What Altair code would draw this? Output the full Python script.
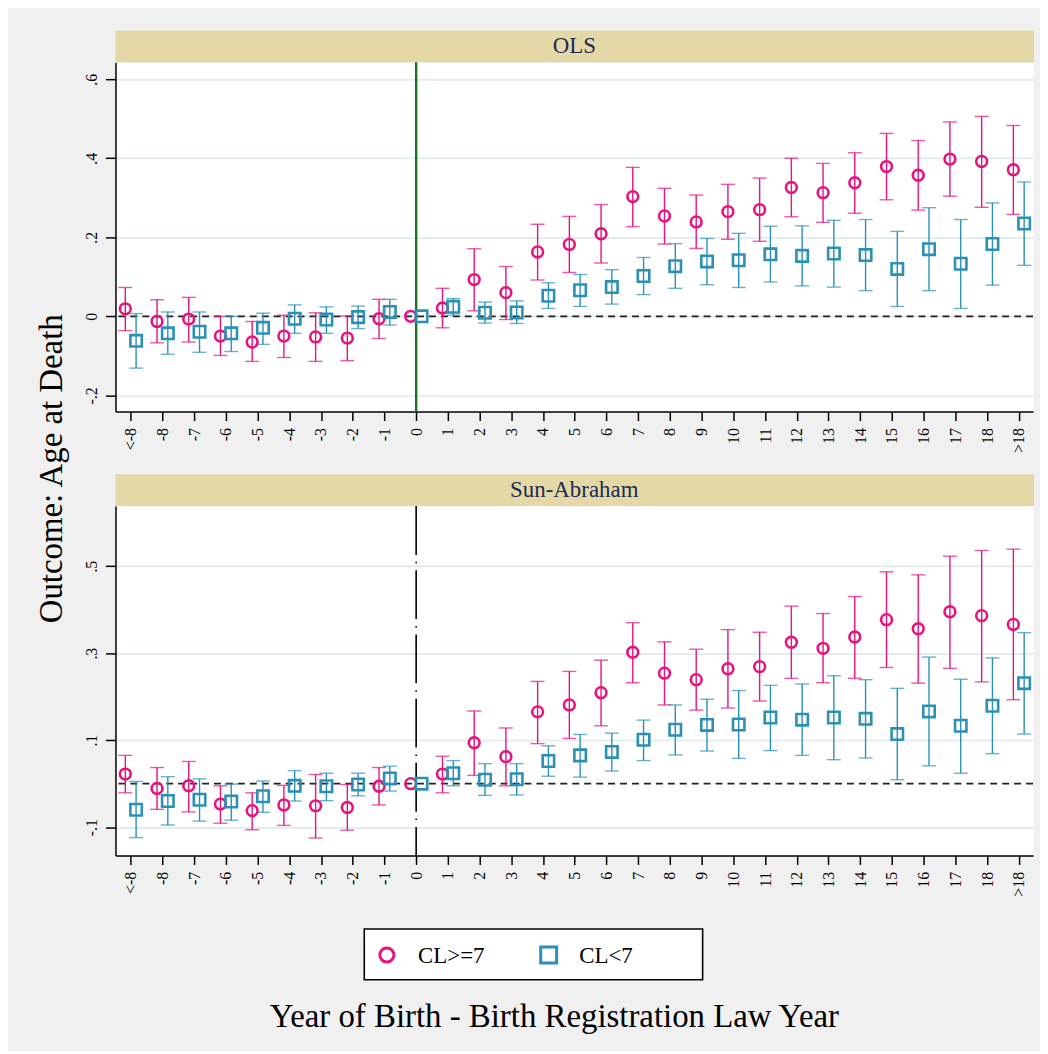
import json
import altair as alt
import pandas as pd

# ---------------- data ----------------
categories = ["<-8", "-8", "-7", "-6", "-5", "-4", "-3", "-2", "-1", "0",
              "1", "2", "3", "4", "5", "6", "7", "8", "9", "10",
              "11", "12", "13", "14", "15", "16", "17", "18", ">18"]
series_names = ["CL>=7", "CL<7"]
panel_names = ["OLS", "Sun-Abraham"]
event_category = "0"

# OLS, CL>=7
ols_ge7_est = [0.019, -0.013, -0.007, -0.050, -0.065, -0.050, -0.052, -0.055, -0.006, 0.0,
               0.021, 0.093, 0.060, 0.163, 0.182, 0.209, 0.303, 0.254, 0.239, 0.265,
               0.270, 0.326, 0.313, 0.338, 0.379, 0.357, 0.398, 0.392, 0.371]
ols_ge7_lo = [-0.036, -0.067, -0.065, -0.099, -0.114, -0.104, -0.114, -0.112, -0.056, None,
              -0.029, 0.014, -0.008, 0.092, 0.111, 0.135, 0.227, 0.183, 0.172, 0.195,
              0.190, 0.252, 0.238, 0.261, 0.295, 0.269, 0.304, 0.276, 0.258]
ols_ge7_hi = [0.073, 0.042, 0.048, 0.000, -0.013, 0.003, 0.009, 0.001, 0.043, None,
              0.071, 0.171, 0.126, 0.233, 0.253, 0.283, 0.377, 0.324, 0.307, 0.334,
              0.350, 0.400, 0.387, 0.414, 0.463, 0.445, 0.492, 0.506, 0.483]
# OLS, CL<7
ols_lt7_est = [-0.062, -0.043, -0.039, -0.043, -0.029, -0.006, -0.008, -0.002, 0.011, 0.0,
               0.024, 0.009, 0.010, 0.052, 0.066, 0.074, 0.102, 0.127, 0.139, 0.142,
               0.157, 0.153, 0.159, 0.155, 0.120, 0.170, 0.133, 0.183, 0.235]
ols_lt7_lo = [-0.131, -0.096, -0.091, -0.089, -0.071, -0.043, -0.043, -0.031, -0.022, None,
              0.003, -0.017, -0.018, 0.020, 0.025, 0.031, 0.055, 0.071, 0.080, 0.073,
              0.087, 0.077, 0.074, 0.065, 0.025, 0.065, 0.020, 0.079, 0.129]
ols_lt7_hi = [0.007, 0.011, 0.011, 0.000, 0.008, 0.029, 0.024, 0.026, 0.043, None,
              0.045, 0.036, 0.039, 0.085, 0.106, 0.118, 0.149, 0.184, 0.197, 0.210,
              0.228, 0.229, 0.243, 0.245, 0.215, 0.275, 0.245, 0.287, 0.340]
# Sun-Abraham, CL>=7
sa_ge7_est = [0.022, -0.011, -0.005, -0.047, -0.062, -0.049, -0.051, -0.055, -0.006, 0.0,
              0.022, 0.094, 0.062, 0.165, 0.181, 0.209, 0.302, 0.254, 0.239, 0.264,
              0.269, 0.325, 0.311, 0.337, 0.377, 0.356, 0.395, 0.386, 0.366]
sa_ge7_lo = [-0.021, -0.059, -0.065, -0.091, -0.106, -0.096, -0.125, -0.107, -0.049, None,
             -0.021, 0.019, -0.005, 0.092, 0.104, 0.133, 0.232, 0.181, 0.169, 0.174,
             0.190, 0.242, 0.232, 0.242, 0.267, 0.231, 0.265, 0.234, 0.193]
sa_ge7_hi = [0.065, 0.037, 0.051, -0.005, -0.021, -0.004, 0.021, -0.002, 0.037, None,
             0.063, 0.167, 0.128, 0.235, 0.258, 0.284, 0.370, 0.326, 0.309, 0.354,
             0.348, 0.408, 0.391, 0.430, 0.487, 0.480, 0.523, 0.536, 0.539]
# Sun-Abraham, CL<7
sa_lt7_est = [-0.060, -0.040, -0.037, -0.041, -0.029, -0.005, -0.006, -0.002, 0.012, 0.0,
              0.024, 0.009, 0.010, 0.052, 0.065, 0.073, 0.101, 0.124, 0.135, 0.136,
              0.152, 0.147, 0.152, 0.149, 0.114, 0.166, 0.133, 0.179, 0.231]
sa_lt7_lo = [-0.124, -0.095, -0.086, -0.084, -0.066, -0.040, -0.039, -0.028, -0.017, None,
             -0.005, -0.027, -0.026, 0.017, 0.015, 0.029, 0.053, 0.066, 0.075, 0.058,
             0.076, 0.065, 0.055, 0.059, 0.009, 0.041, 0.024, 0.069, 0.114]
sa_lt7_hi = [0.005, 0.016, 0.011, -0.001, 0.006, 0.030, 0.024, 0.024, 0.040, None,
             0.053, 0.046, 0.046, 0.087, 0.113, 0.116, 0.146, 0.181, 0.194, 0.214,
             0.226, 0.229, 0.248, 0.239, 0.219, 0.291, 0.240, 0.289, 0.347]

ols_yticks = [-0.2, 0, 0.2, 0.4, 0.6]
ols_ylabels = ["-.2", "0", ".2", ".4", ".6"]
sa_yticks = [-0.1, 0.1, 0.3, 0.5]
sa_ylabels = ["-.1", ".1", ".3", ".5"]

y_title = "Outcome: Age at Death"
x_title = "Year of Birth - Birth Registration Law Year"

# ---------------- style ----------------
MAG = "#e6137e"
TEAL = "#2a90b6"
STRIP = "#e4d9a6"
STRIP_TXT = "#1c2a52"
BG = "#f0f0f0"
FONT = "Liberation Serif"
W, H = 922, 351
XDOM = [-0.48, 28.45]
OFFSETS = {"CL>=7": -0.17, "CL<7": 0.17}


def build_df(parts):
    rows = []
    for sname, est, lo, hi in parts:
        for i, cat in enumerate(categories):
            rows.append(dict(series=sname, cat=cat, idx=i, xpos=i + OFFSETS[sname],
                             est=est[i], lo=lo[i], hi=hi[i]))
    return pd.DataFrame(rows)


ols_df = build_df([("CL>=7", ols_ge7_est, ols_ge7_lo, ols_ge7_hi),
                   ("CL<7", ols_lt7_est, ols_lt7_lo, ols_lt7_hi)])
sa_df = build_df([("CL>=7", sa_ge7_est, sa_ge7_lo, sa_ge7_hi),
                  ("CL<7", sa_lt7_est, sa_lt7_lo, sa_lt7_hi)])

x_label_expr = json.dumps(categories) + "[datum.value]"

color = alt.Color("series:N", scale=alt.Scale(domain=series_names, range=[MAG, TEAL]), legend=None)
shape = alt.Shape("series:N", scale=alt.Scale(domain=series_names, range=["circle", "square"]), legend=None)
size = alt.Size("series:N", scale=alt.Scale(domain=series_names, range=[118, 132]), legend=None)


def make_panel(name, df, ydom, yvals, ylabs, vline_color, vline_dash, top):
    xscale = alt.Scale(domain=XDOM, nice=False, zero=False)
    yscale = alt.Scale(domain=ydom, nice=False, zero=False)
    xaxis_kw = dict(values=list(range(len(categories))), labelExpr=x_label_expr,
                    labelAngle=270, labelFontSize=16, tickSize=9, labelPadding=7,
                    grid=False, labelOverlap=False)
    if top:
        xaxis = alt.Axis(title=None, **xaxis_kw)
    else:
        xaxis = alt.Axis(title=x_title, titleFontSize=33, titleFontWeight="normal",
                         titleX=440.5, titleY=172, titleAlign="center",
                         titleBaseline="alphabetic", titleColor="black", **xaxis_kw)
    ylab_expr = json.dumps(ylabs) + "[indexof(" + json.dumps(yvals) + ", datum.value)]"
    yaxis_kw = dict(values=yvals, labelExpr=ylab_expr, labelAngle=270, labelAlign="center",
                    labelBaseline="alphabetic", labelFontSize=16, tickSize=10, labelPadding=9,
                    grid=True)
    if top:
        yaxis = alt.Axis(title=y_title, titleFontSize=33, titleFontWeight="normal",
                         titleAngle=270, titleX=-54, titleY=408, titleAlign="center",
                         titleBaseline="alphabetic", titleColor="black", **yaxis_kw)
    else:
        yaxis = alt.Axis(title=None, **yaxis_kw)

    def X(f):
        return alt.X(f, type="quantitative", scale=xscale, axis=xaxis)

    def Y(f):
        return alt.Y(f, type="quantitative", scale=yscale, axis=yaxis)

    head = pd.DataFrame({"panel": [name]})
    strip = alt.Chart(head).mark_rect(fill=STRIP).encode(
        x=alt.value(0), x2=alt.value(W + 1), y=alt.value(-32), y2=alt.value(0))
    strip_txt = alt.Chart(head).mark_text(font=FONT, fontSize=23, color=STRIP_TXT,
                                          baseline="middle", align="center").encode(
        x=alt.value(W / 2), y=alt.value(-16), text="panel:N")

    zero = alt.Chart(pd.DataFrame({"z": [0]})).mark_rule(
        color="#222222", strokeWidth=1.6, strokeDash=[7, 5]).encode(y=Y("z"))
    vkw = dict(color=vline_color, strokeWidth=2.4 if top else 1.6)
    if vline_dash:
        vkw["strokeDash"] = vline_dash
    vline = alt.Chart(pd.DataFrame({"ev": [categories.index(event_category)]})).mark_rule(
        **vkw).encode(x=X("ev"))

    base = alt.Chart(df)
    valid = base.transform_filter("isValid(datum.lo) && datum.lo !== null")
    bars = valid.mark_rule(strokeWidth=1.4).encode(x=X("xpos"), y=Y("lo"), y2="hi", color=color)
    cap_lo = valid.mark_tick(orient="horizontal", size=14, thickness=1.4).encode(
        x=X("xpos"), y=Y("lo"), color=color)
    cap_hi = valid.mark_tick(orient="horizontal", size=14, thickness=1.4).encode(
        x=X("xpos"), y=Y("hi"), color=color)
    pts = base.mark_point(filled=False, strokeWidth=2.6, opacity=1).encode(
        x=X("xpos"), y=Y("est"), color=color, shape=shape, size=size)

    layers = [strip, strip_txt, zero, vline, bars, cap_lo, cap_hi, pts]

    if not top:
        leg = pd.DataFrame({"series": series_names})
        box = alt.Chart(head).mark_rect(fill="white", stroke="black", strokeWidth=1.6).encode(
            x=alt.value(250), x2=alt.value(590), y=alt.value(425), y2=alt.value(476))
        layers.append(box)
        sym_x = [272.7, 435.3]
        txt_x = [304, 466]
        shapes = ["circle", "square"]
        sizes = [200, 256]
        cols = [MAG, TEAL]
        for i, s in enumerate(series_names):
            d = leg[leg.series == s]
            layers.append(alt.Chart(d).mark_point(filled=False, strokeWidth=3, shape=shapes[i],
                                                  size=sizes[i], color=cols[i], opacity=1).encode(
                x=alt.value(sym_x[i]), y=alt.value(451)))
            layers.append(alt.Chart(d).mark_text(font=FONT, fontSize=23, color="black",
                                                 align="left", baseline="middle").encode(
                x=alt.value(txt_x[i]), y=alt.value(452), text="series:N"))

    return alt.layer(*layers).properties(width=W, height=H)


top = make_panel(panel_names[0], ols_df, [-0.241, 0.643], ols_yticks, ols_ylabels,
                 "#1d731d", None, True)
bottom = make_panel(panel_names[1], sa_df, [-0.165, 0.638], sa_yticks, sa_ylabels,
                    "black", [49, 7, 1.5, 7], False)

chart = alt.vconcat(top, bottom, spacing=95, bounds="flush").configure(
    background=BG,
    padding={"left": 27, "top": 19, "right": 4, "bottom": 14},
    font=FONT,
).configure_view(
    fill="white", stroke="transparent"
).configure_axis(
    domainColor="black", domainWidth=1.5, tickColor="black", tickWidth=1.5,
    labelColor="black", labelFont=FONT, titleFont=FONT,
    gridColor="#e3edf0", gridWidth=2,
)

chart.save("out.html", embed_options={"renderer": "svg", "actions": False})
